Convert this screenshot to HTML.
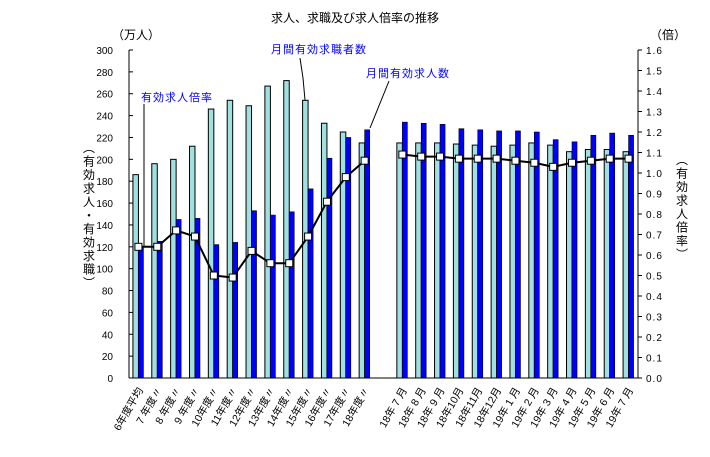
<!DOCTYPE html>
<html><head><meta charset="utf-8"><style>
body{margin:0;background:#fff;}
svg text{font-family:"Liberation Sans","Noto Sans CJK JP",sans-serif;}
</style></head><body>
<svg id="c" width="710" height="452" xmlns="http://www.w3.org/2000/svg">
<text x="355" y="22" font-size="12" text-anchor="middle">求人、求職及び求人倍率の推移</text>
<text x="112" y="39" font-size="12">（万人）</text>
<text x="650" y="39" font-size="12">（倍）</text>
<text id="lt" font-size="12" text-anchor="middle"></text>
<text id="rt" font-size="12" text-anchor="middle"></text>
<g id="plot"></g>
<text x="141" y="101" font-size="11" fill="#0000ff" letter-spacing="1">有効求人倍率</text>
<line x1="144" y1="104" x2="144" y2="246" stroke="#000"/>
<text x="271" y="53" font-size="11" fill="#0000ff" letter-spacing="1">月間有効求職者数</text>
<polyline points="300,58 303,78 305,100" fill="none" stroke="#000"/>
<text x="366" y="77" font-size="11" fill="#0000ff" letter-spacing="1">月間有効求人数</text>
<line x1="389" y1="81" x2="370" y2="128" stroke="#000"/>
</svg>
<script>
const categories=["6年度平均","7 年度〃","8 年度〃","9 年度〃","10年度〃","11年度〃","12年度〃","13年度〃","14年度〃","15年度〃","16年度〃","17年度〃","18年度〃","","18年 7 月","18年 8 月","18年 9 月","18年10月","18年11月","18年12月","19年 1 月","19年 2 月","19年 3 月","19年 4 月","19年 5 月","19年 6 月","19年 7 月"];
const openings=[186,196,200,212,246,254,249,267,272,254,233,225,215,null,215,215,215,214,213,212,213,215,213,207,209,209,207];
const seekers=[120,125,145,146,122,124,153,149,152,173,201,220,227,null,234,233,232,228,227,226,226,225,218,216,222,224,222];
const ratio=[0.64,0.64,0.72,0.69,0.50,0.49,0.62,0.56,0.56,0.69,0.86,0.98,1.06,null,1.09,1.08,1.08,1.07,1.07,1.07,1.06,1.05,1.03,1.05,1.06,1.07,1.07];
const leftTicks=[0,20,40,60,80,100,120,140,160,180,200,220,240,260,280,300];
const rightTicks=["0.0","0.1","0.2","0.3","0.4","0.5","0.6","0.7","0.8","0.9","1.0","1.1","1.2","1.3","1.4","1.5","1.6"];
const NS="http://www.w3.org/2000/svg",g=document.getElementById('plot');
function vert(id,str,x,y0){
  const el=document.getElementById(id);
  [...str].forEach((ch,k)=>{
    const s=document.createElementNS(NS,'tspan');
    s.setAttribute('x',x);s.setAttribute('y',y0+k*13.5);s.textContent=ch;el.appendChild(s);
  });
}
vert('lt','︵有効求人・有効求職︶',89,152);
vert('rt','︵有効求人倍率︶',682,164);
const X0=129,X1=638,Y0=378,Y1=50;
const slot=(X1-X0)/categories.length;
const cx=i=>X0+slot*(i+0.5);
const yL=v=>Y0-(v/300)*(Y0-Y1);
const yR=v=>Y0-(v/1.6)*(Y0-Y1);
function mk(t,a){const e=document.createElementNS(NS,t);for(const k in a)e.setAttribute(k,a[k]);g.appendChild(e);return e;}
leftTicks.forEach(v=>{
  const t=mk('text',{x:113,y:yL(v)+4,'font-size':10,'text-anchor':'end'});t.textContent=v;
  
  
  const l=mk('line',{x1:X0,x2:X0+4,y1:yL(v),y2:yL(v),stroke:'#000'});
  
  
});
rightTicks.forEach(s=>{
  const v=parseFloat(s);
  const t=mk('text',{x:646,y:yR(v)+4,'font-size':10,'letter-spacing':'1'});t.textContent=s;
  
  
  const l=mk('line',{x1:X1,x2:X1+4,y1:yR(v),y2:yR(v),stroke:'#000'});
  
  
});
categories.forEach((c,i)=>{
  if(openings[i]!=null){
    const r=mk('rect',{x:cx(i)-5.5,y:yL(openings[i]),width:5.5,height:Y0-yL(openings[i]),fill:'#a0e0e0',stroke:'#000','stroke-width':1});
    
    
    const b=mk('rect',{x:cx(i),y:yL(seekers[i]),width:5,height:Y0-yL(seekers[i]),fill:'#0000ff',stroke:'#000','stroke-width':0.6});
    
    
  }
  if(c){
    const x=cx(i)+5,y=390;
    const t=mk('text',{x:x,y:y,'font-size':10.5,'text-anchor':'end',transform:`rotate(-60 ${x} ${y})`});t.textContent=c;
    
    
  }
});
mk('line',{x1:X0,x2:X0,y1:Y1,y2:Y0,stroke:'#000'});
mk('line',{x1:X1,x2:X1,y1:Y1,y2:Y0,stroke:'#000'});
mk('line',{x1:X0,x2:X1,y1:Y0,y2:Y0,stroke:'#000'});
[[0,12],[14,26]].forEach(([a,b])=>{
  let pts=[];for(let i=a;i<=b;i++)pts.push(cx(i)+','+yR(ratio[i]));
  const p=mk('polyline',{points:pts.join(' '),fill:'none',stroke:'#000','stroke-width':2});
  
  
});
ratio.forEach((v,i)=>{
  if(v==null)return;
  const m=mk('rect',{x:cx(i)-3.5,y:yR(v)-3.5,width:7,height:7,fill:'#fff',stroke:'#000','stroke-width':1});
  
  
});
</script>
</body></html>
